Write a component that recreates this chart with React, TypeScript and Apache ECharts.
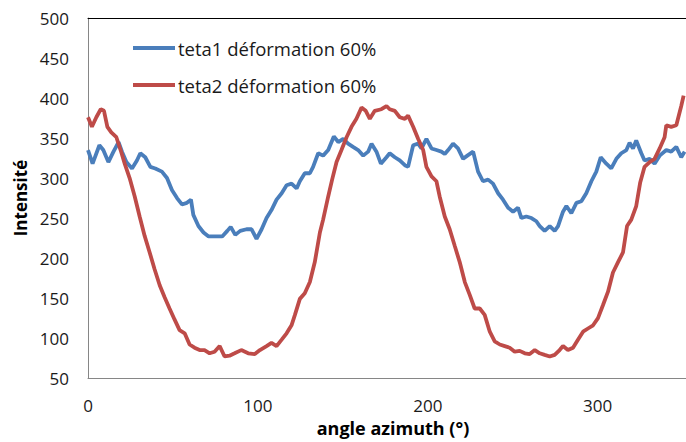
import React, { useEffect, useRef } from "react";
import * as echarts from "echarts";

const blueAngles = [0, 2.7, 6.7, 9, 12, 15, 18, 20, 22.6, 25.9, 28.8, 30.8, 33.7, 36.7, 39.6, 43.5, 46.5, 49.4, 52.4, 55.3, 58.2, 60.6, 62, 65, 68, 71, 75, 79, 82, 84, 86.7, 89.6, 93.3, 96.3, 99.2, 102.2, 105.1, 108, 111, 114, 116.9, 119.8, 122.8, 124.7, 127.6, 130.6, 132.5, 135.5, 138.4, 141.4, 144.7, 147.3, 150.2, 153.1, 156, 159, 162, 164.9, 166.9, 169.8, 172.4, 175.7, 177.6, 180.6, 183.5, 186.5, 188.4, 191.4, 194.3, 196.3, 199.2, 202.2, 205.1, 208, 210, 212, 214.9, 217.8, 220.8, 223.3, 226.7, 229.6, 232.5, 235.5, 238.4, 241.4, 244.3, 247.3, 250.2, 253.1, 255.1, 258, 261, 263.9, 265.9, 268.8, 271.8, 274.7, 276.7, 279.6, 281.6, 284.5, 287.5, 290.4, 293.3, 296.3, 299.2, 301.8, 305.1, 308, 311, 313.9, 316.9, 318.8, 320.8, 322.7, 325.7, 327.6, 330.6, 333.5, 336.5, 340.4, 343.3, 346.3, 349.2, 351.2];
const blueValues = [335, 318, 341, 335, 320, 333, 345, 333, 320, 312, 322, 331, 326, 314, 312, 308, 300, 285, 275, 267, 269, 273, 254, 240, 232, 227, 227, 227, 234, 239, 229, 234, 236, 236, 224, 236, 250, 260, 273, 281, 291, 293, 287, 296, 306, 306, 314, 331, 328, 335, 352, 345, 349, 343, 339, 335, 328, 333, 343, 333, 318, 326, 331, 326, 322, 316, 314, 341, 343, 337, 349, 337, 335, 333, 330, 335, 343, 337, 324, 328, 333, 308, 296, 298, 293, 281, 273, 263, 258, 263, 250, 252, 250, 246, 240, 234, 240, 234, 240, 258, 265, 256, 269, 271, 281, 296, 308, 326, 318, 312, 324, 331, 335, 344, 337, 347, 331, 322, 324, 318, 328, 335, 333, 339, 326, 333];

const redAngles = [0, 2.3, 4.9, 7.5, 9.4, 11.4, 13.7, 16.7, 19.2, 21.6, 24.5, 27.5, 30.4, 33.3, 36.3, 39.2, 42.2, 45.1, 48, 51, 53.9, 56.9, 59.8, 62.7, 65.7, 68.6, 71.6, 74.5, 77.5, 80.4, 83.3, 86.3, 90.2, 94.3, 98.2, 101.2, 105.1, 108, 111, 114, 116.9, 119.8, 121.8, 124.7, 127.6, 130.6, 133.5, 136.5, 138.4, 141.4, 143.7, 146.3, 149.2, 152.2, 155.1, 158, 161, 163.5, 165.9, 168.8, 172.7, 175.7, 177.6, 180.6, 183.5, 186.5, 188.4, 191.4, 194.3, 197.3, 199.2, 202.2, 205.1, 207, 210, 212.9, 215.9, 218.8, 221.8, 224.7, 227.6, 230.6, 233.5, 236.5, 239.4, 242.4, 245.3, 248.2, 251.2, 254.1, 257.1, 260, 263, 265.9, 268.8, 271.8, 274.7, 277.6, 279.6, 282.5, 285.5, 288.4, 291.4, 294.3, 297.3, 300.2, 303.1, 306.1, 309, 312, 314.9, 317.3, 319.8, 322.7, 325, 327.6, 330.6, 333.5, 336.5, 339.4, 340.4, 343.3, 346.3, 349.2, 350.6];
const redValues = [376, 364, 376, 386, 384, 364, 357, 351, 335, 318, 300, 277, 252, 228, 207, 186, 166, 151, 137, 123, 110, 106, 92, 88, 85, 85, 81, 83, 90, 77, 78, 81, 85, 81, 80, 85, 90, 94, 90, 98, 106, 116, 129, 149, 156, 170, 195, 232, 248, 277, 298, 320, 335, 351, 364, 374, 388, 384, 374, 384, 386, 390, 386, 384, 376, 374, 378, 364, 349, 335, 314, 302, 296, 277, 252, 236, 215, 195, 170, 154, 137, 137, 129, 108, 96, 92, 90, 88, 83, 84, 81, 80, 85, 81, 79, 77, 79, 85, 90, 85, 88, 98, 108, 112, 116, 125, 141, 158, 182, 195, 207, 240, 248, 265, 294, 314, 320, 324, 337, 351, 366, 364, 366, 390, 403];

const seriesNames = ["teta1 déformation 60%", "teta2 déformation 60%"];
const xTitle = "angle azimuth (°)";
const yTitle = "Intensité";

const FONT = "'Open Sans', sans-serif";

export default function App() {
  const ref = useRef<HTMLDivElement>(null);
  useEffect(() => {
    if (!ref.current) return;
    const chart = echarts.init(ref.current, undefined, { renderer: "svg" });
    const blue = blueAngles.map((a, i) => [a, blueValues[i]]);
    const red = redAngles.map((a, i) => [a, redValues[i]]);
    chart.setOption({
      animation: false,
      backgroundColor: "#ffffff",
      textStyle: { fontFamily: FONT },
      grid: { left: 88, right: 0, top: 18, bottom: 60, containLabel: false },
      legend: {
        orient: "vertical",
        left: 133,
        top: 37,
        padding: 0,
        itemWidth: 42,
        itemHeight: 4,
        itemGap: 15,
        icon: "rect",
        textStyle: { fontSize: 18.5, color: "#1a1a1a", fontFamily: FONT, lineHeight: 22, padding: [0, 0, 0, -2] },
        data: seriesNames,
      },
      xAxis: [
        {
          type: "value",
          min: 0,
          max: 352,
          interval: 100,
          name: xTitle,
          nameLocation: "middle",
          nameGap: 40,
          nameTextStyle: { fontSize: 18, fontWeight: "bold", color: "#000", fontFamily: FONT, padding: [0, 0, 0, 12] },
          axisLine: { show: true, lineStyle: { color: "#868686", width: 1 } },
          axisTick: { show: false },
          splitLine: { show: false },
          axisLabel: {
            fontSize: 17,
            color: "#1a1a1a",
            margin: 19,
            showMaxLabel: false,
            formatter: (v: number) => (v % 100 === 0 ? String(v) : ""),
          },
        },
        {
          type: "value",
          position: "top",
          min: 0,
          max: 352,
          interval: 100,
          axisLine: { show: true, lineStyle: { color: "#000", width: 1 } },
          axisTick: { show: false },
          axisLabel: { show: false },
          splitLine: { show: false },
        },
      ],
      yAxis: {
        type: "value",
        min: 50,
        max: 500,
        interval: 50,
        name: yTitle,
        nameLocation: "middle",
        nameGap: 58,
        nameTextStyle: { fontSize: 17, fontWeight: "bold", color: "#000", fontFamily: FONT },
        axisLine: { show: true, lineStyle: { color: "#868686", width: 1 } },
        axisTick: { show: false },
        splitLine: { show: false },
        axisLabel: { fontSize: 17, color: "#1a1a1a", margin: 19 },
      },
      series: [
        {
          name: seriesNames[0],
          type: "line",
          data: blue,
          showSymbol: false,
          lineStyle: { color: "#4A7EBB", width: 3.8 },
          itemStyle: { color: "#4A7EBB" },
        },
        {
          name: seriesNames[1],
          type: "line",
          data: red,
          showSymbol: false,
          lineStyle: { color: "#BE4B48", width: 3.8 },
          itemStyle: { color: "#BE4B48" },
        },
      ],
    });
    return () => chart.dispose();
  }, []);
  return <div ref={ref} style={{ width: 686, height: 442, position: "absolute", left: 0, top: 0 }} />;
}
